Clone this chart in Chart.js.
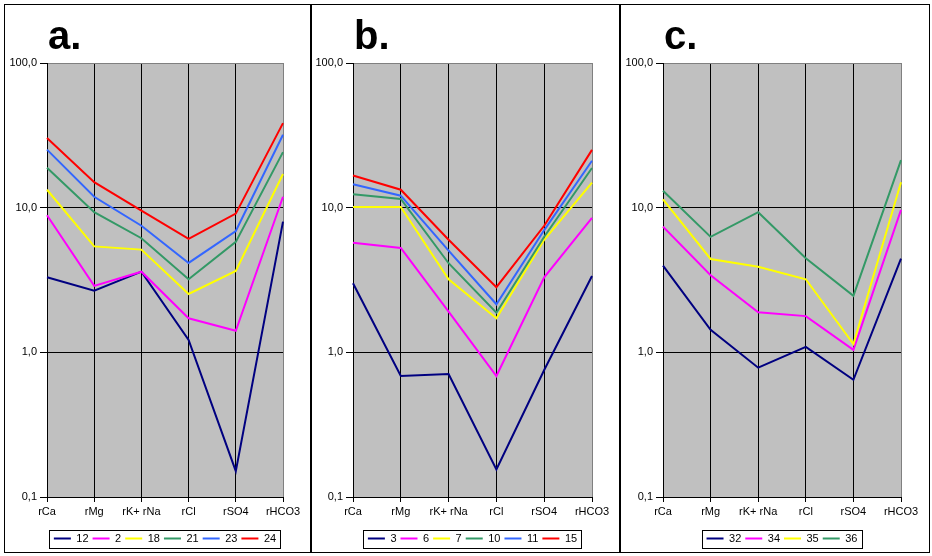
<!DOCTYPE html>
<html>
<head>
<meta charset="utf-8">
<script src="https://cdn.jsdelivr.net/npm/chart.js@4"></script>
<style>
html,body{margin:0;padding:0;background:#fff;}
body{width:932px;height:556px;position:relative;overflow:hidden;}
#frame{position:absolute;left:4px;top:4px;width:924px;height:547px;border:1px solid #000;}
.sep{position:absolute;top:4px;height:549px;width:2px;background:#000;}
.pane{position:absolute;top:5px;height:547px;}
canvas{display:block;}
</style>
</head>
<body>
<div id="frame"></div>
<div class="sep" style="left:310px"></div>
<div class="sep" style="left:619px"></div>
<div class="pane" style="left:5px;width:305px"><canvas id="ca" width="305" height="547"></canvas></div>
<div class="pane" style="left:312px;width:307px"><canvas id="cb" width="307" height="547"></canvas></div>
<div class="pane" style="left:621px;width:308px"><canvas id="cc" width="308" height="547"></canvas></div>
<script>
// ---------- data ----------
const categories = ['rCa', 'rMg', 'rK+ rNa', 'rCl', 'rSO4', 'rHCO3'];
const yTickValues = [0.1, 1, 10, 100];
const yTickLabels = ['0,1', '1,0', '10,0', '100,0'];
const seriesColors = ['#000080', '#FF00FF', '#FFFF00', '#339966', '#3366FF', '#FF0000'];

// panel a
const namesA = ['12', '2', '18', '21', '23', '24'];
const a12 = [3.3, 2.67, 3.61, 1.22, 0.151, 8.0];
const a2  = [8.87, 2.88, 3.61, 1.72, 1.41, 11.9];
const a18 = [13.3, 5.4, 5.13, 2.53, 3.65, 17.1];
const a21 = [18.9, 9.3, 6.15, 3.2, 5.8, 24.2];
const a23 = [25.2, 11.9, 7.5, 4.15, 6.9, 31.9];
const a24 = [30.3, 15.0, 9.55, 6.08, 9.1, 38.4];

// panel b
const namesB = ['3', '6', '7', '10', '11', '15'];
const b3  = [3.0, 0.686, 0.708, 0.155, 0.755, 3.37];
const b6  = [5.73, 5.27, 1.91, 0.686, 3.3, 8.5];
const b7  = [10.1, 10.1, 3.2, 1.72, 6.0, 14.9];
const b10 = [12.4, 11.5, 4.13, 1.88, 6.3, 18.8];
const b11 = [14.5, 12.1, 5.05, 2.15, 7.0, 21.1];
const b15 = [16.7, 13.3, 6.0, 2.82, 7.5, 25.1];

// panel c
const namesC = ['32', '34', '35', '36'];
const c32 = [3.98, 1.43, 0.783, 1.09, 0.646, 4.44];
const c34 = [7.4, 3.41, 1.89, 1.78, 1.04, 9.66];
const c35 = [11.4, 4.42, 3.91, 3.2, 1.14, 15.0];
const c36 = [13.1, 6.28, 9.3, 4.47, 2.46, 21.3];

// ---------- rendering ----------
const FONT = '"Liberation Sans", Arial, sans-serif';

const bgPlugin = {
  id: 'plotBg',
  beforeDraw(chart) {
    const a = chart.chartArea, ctx = chart.ctx;
    ctx.save();
    ctx.fillStyle = '#C0C0C0';
    ctx.fillRect(a.left, a.top, a.right - a.left, a.bottom - a.top);
    ctx.restore();
  }
};

const titlePlugin = {
  id: 'panelTitle',
  afterDraw(chart, args, opts) {
    const ctx = chart.ctx;
    ctx.save();
    ctx.font = 'bold 40px ' + FONT;
    ctx.fillStyle = '#000';
    ctx.textAlign = 'left';
    ctx.textBaseline = 'alphabetic';
    ctx.fillText(opts.text, chart.chartArea.left + 1, chart.chartArea.top - 14);
    ctx.restore();
  }
};

const legendBoxPlugin = {
  id: 'legendBox',
  afterLayout(chart, args, opts) {
    const lg = chart.legend;
    if (!lg) return;
    const h = lg.bottom - lg.top;
    lg.left = chart.chartArea.left;
    lg.right = chart.chartArea.right;
    lg.top = opts.top;
    lg.bottom = opts.top + h;
  },
  afterDraw(chart, args, opts) {
    const lg = chart.legend;
    if (!lg || !lg.lineWidths) return;
    const pad = lg.options.labels.padding;
    const w = lg.lineWidths[0];
    const x0 = (lg.left + pad + lg.right - w) / 2;
    const x1 = x0 + w - pad;
    const cy = lg.top + pad + 5.5;
    const ctx = chart.ctx;
    ctx.save();
    ctx.strokeStyle = '#000';
    ctx.lineWidth = 1;
    ctx.strokeRect(Math.round(x0 - 5) + 0.5, Math.round(cy - 9) + 0.5, Math.round(x1 - x0 + 9), 18);
    ctx.restore();
  }
};

function makePanel(id, title, names, series, yAxisWidth, padRight) {
  const n = series.length;
  const datasets = series.map((vals, i) => ({
    label: names[i],
    data: vals,
    borderColor: seriesColors[i],
    backgroundColor: seriesColors[i],
    borderWidth: 2,
    pointRadius: 0,
    pointHoverRadius: 0,
    pointBorderWidth: 2,
    pointBorderColor: seriesColors[i],
    tension: 0,
    fill: false,
    order: n - i
  }));
  new Chart(document.getElementById(id), {
    type: 'line',
    data: { labels: categories, datasets },
    plugins: [bgPlugin, titlePlugin, legendBoxPlugin],
    options: {
      responsive: false,
      animation: false,
      events: [],
      layout: { padding: { top: 58, left: 0, right: padRight, bottom: 10 } },
      plugins: {
        tooltip: { enabled: false },
        title: { display: false },
        panelTitle: { text: title },
        legendBox: { top: 524 },
        legend: {
          display: true,
          position: 'bottom',
          align: 'center',
          labels: {
            usePointStyle: true,
            pointStyle: 'line',
            pointStyleWidth: 17,
            boxHeight: 11,
            color: '#000',
            padding: 4,
            font: { family: FONT, size: 11 },
            sort: (a, b) => a.datasetIndex - b.datasetIndex
          }
        }
      },
      scales: {
        x: {
          type: 'category',
          offset: false,
          grid: {
            color: (c) => (c.index === categories.length - 1 ? '#808080' : '#000000'),
            tickColor: '#000000',
            tickLength: 5,
            lineWidth: 1
          },
          border: { color: '#000000', width: 1 },
          ticks: {
            color: '#000',
            font: { family: FONT, size: 11 },
            padding: 3,
            maxRotation: 0,
            autoSkip: false
          },
          afterFit: (s) => { s.height = 20; }
        },
        y: {
          type: 'logarithmic',
          min: 0.1,
          max: 100,
          afterBuildTicks: (s) => { s.ticks = yTickValues.map(v => ({ value: v, major: true })); },
          grid: {
            color: (c) => (c.tick && c.tick.value === 100 ? '#808080' : '#000000'),
            tickColor: '#000000',
            tickLength: 7,
            lineWidth: 1
          },
          border: { color: '#000000', width: 1 },
          ticks: {
            color: '#000',
            font: { family: FONT, size: 11 },
            padding: 3,
            autoSkip: false,
            callback: (v) => {
              const i = yTickValues.indexOf(v);
              return i >= 0 ? yTickLabels[i] : '';
            }
          },
          afterFit: (s) => { s.width = yAxisWidth; }
        }
      }
    }
  });
}

makePanel('ca', 'a.', namesA, [a12, a2, a18, a21, a23, a24], 42, 27);
makePanel('cb', 'b.', namesB, [b3, b6, b7, b10, b11, b15], 41, 27);
makePanel('cc', 'c.', namesC, [c32, c34, c35, c36], 42, 28);
</script>
</body>
</html>
